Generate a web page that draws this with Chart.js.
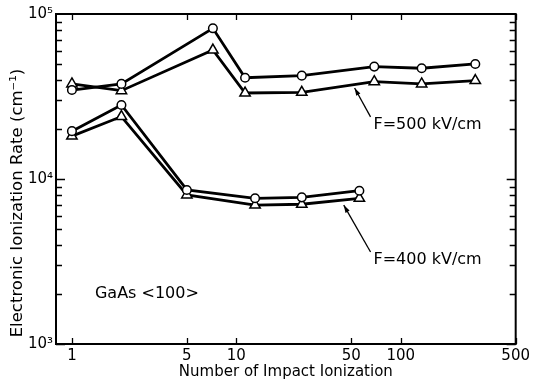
<!DOCTYPE html>
<html>
<head>
<meta charset="utf-8">
<script src="https://cdn.jsdelivr.net/npm/chart.js@4.4.0/dist/chart.umd.min.js"></script>
<style>
  html, body { margin: 0; padding: 0; background: #fff; }
  #wrap { width: 533px; height: 383px; }
</style>
</head>
<body>
<div id="wrap"><canvas id="chart" width="533" height="383"></canvas></div>
<script>
// F = 500 kV/cm
const x500 = [1, 2, 7.2, 11.3, 25, 69, 134, 284];
const circle500 = [34600, 37700, 81900, 41100, 42300, 48000, 46900, 49800];
const triangle500 = [37700, 34300, 60500, 33200, 33500, 38900, 37700, 39500];
// F = 400 kV/cm
const x400 = [1, 2, 5, 13, 25, 56];
const circle400 = [19500, 28100, 8580, 7640, 7740, 8490];
const triangle400 = [18200, 23900, 8000, 6950, 7030, 7640];

const xTicks = [1, 5, 10, 50, 100, 500];
const yTicks = [1e3, 1e4, 1e5];
const yTickLabels = ['10³', '10⁴', '10⁵'];

const FONT = "'DejaVu Sans', 'Liberation Sans', sans-serif";

function pts(xs, ys) {
    return xs.map((x, i) => ({ x: x, y: ys[i] }));
}

function series(label, xs, ys, style, radius) {
    return {
        label: label,
        data: pts(xs, ys),
        showLine: true,
        borderColor: '#000',
        borderWidth: 2.8,
        pointStyle: style,
        pointRadius: radius,
        pointBackgroundColor: '#fff',
        pointBorderColor: '#000',
        pointBorderWidth: 1.5
    };
}

// box and inward tick marks
const frame = {
    id: 'frame',
    beforeDatasetsDraw(chart) {
        const ctx = chart.ctx;
        const a = chart.chartArea;
        const xs = chart.scales.x, ys = chart.scales.y;
        ctx.save();
        ctx.strokeStyle = '#000';
        ctx.lineWidth = 1.3;
        ctx.beginPath();
        xTicks.forEach(v => {
            const px = Math.round(xs.getPixelForValue(v)) + 0.5;
            ctx.moveTo(px, a.top); ctx.lineTo(px, a.top + 6);
            ctx.moveTo(px, a.bottom); ctx.lineTo(px, a.bottom - 6);
        });
        [3, 4].forEach(d => {
            for (let m = 1; m <= 9; m++) {
                const v = m * Math.pow(10, d);
                const py = Math.round(ys.getPixelForValue(v)) + 0.5;
                const len = m === 1 ? 9 : 6;
                ctx.moveTo(a.left, py); ctx.lineTo(a.left + len, py);
                ctx.moveTo(a.right, py); ctx.lineTo(a.right - len, py);
            }
        });
        ctx.stroke();
        ctx.lineWidth = 2;
        ctx.strokeRect(a.left, a.top, a.right - a.left, a.bottom - a.top);
        ctx.restore();
    },
    afterDraw(chart) {
        const ctx = chart.ctx;
        const xs = chart.scales.x, ys = chart.scales.y;
        const P = (x, y) => [xs.getPixelForValue(x), ys.getPixelForValue(y)];
        ctx.save();
        ctx.fillStyle = '#000';
        ctx.strokeStyle = '#000';

        // y axis title
        ctx.save();
        ctx.translate(18, 203);
        ctx.rotate(-Math.PI / 2);
        ctx.font = '16.5px ' + FONT;
        ctx.textAlign = 'center';
        ctx.textBaseline = 'middle';
        ctx.fillText('Electronic Ionization Rate (cm⁻¹)', 0, 0);
        ctx.restore();

        ctx.font = '16px ' + FONT;
        ctx.textAlign = 'left';
        ctx.textBaseline = 'middle';
        let p = P(68.2, 21200);
        ctx.fillText('F=500 kV/cm', p[0], p[1]);
        p = P(68.2, 3230);
        ctx.fillText('F=400 kV/cm', p[0], p[1]);
        p = P(1.38, 2010);
        ctx.fillText('GaAs <100>', p[0], p[1]);

        // arrows
        const arrow = (tail, tip) => {
            const [x0, y0] = P(tail[0], tail[1]);
            const [x1, y1] = P(tip[0], tip[1]);
            const ang = Math.atan2(y1 - y0, x1 - x0);
            ctx.lineWidth = 1.3;
            ctx.beginPath();
            ctx.moveTo(x0, y0);
            ctx.lineTo(x1, y1);
            ctx.stroke();
            ctx.beginPath();
            ctx.moveTo(x1, y1);
            ctx.lineTo(x1 - 8 * Math.cos(ang - 0.3), y1 - 8 * Math.sin(ang - 0.3));
            ctx.lineTo(x1 - 8 * Math.cos(ang + 0.3), y1 - 8 * Math.sin(ang + 0.3));
            ctx.closePath();
            ctx.fill();
        };
        arrow([65.5, 23800], [52.4, 35600]);
        arrow([65.5, 3610], [45, 6950]);
        ctx.restore();
    }
};

new Chart(document.getElementById('chart'), {
    type: 'scatter',
    data: {
        datasets: [
            series('F=500 kV/cm circle', x500, circle500, 'circle', 4.3),
            series('F=500 kV/cm triangle', x500, triangle500, 'triangle', 6),
            series('F=400 kV/cm circle', x400, circle400, 'circle', 4.3),
            series('F=400 kV/cm triangle', x400, triangle400, 'triangle', 6)
        ]
    },
    options: {
        responsive: false,
        animation: false,
        layout: { padding: { top: 14, right: 15, left: 0, bottom: 0 } },
        plugins: {
            legend: { display: false },
            tooltip: { enabled: false }
        },
        scales: {
            x: {
                type: 'logarithmic',
                min: 0.8,
                max: 500,
                grid: { display: false, drawTicks: false },
                border: { display: false },
                afterBuildTicks: scale => { scale.ticks = xTicks.map(v => ({ value: v })); },
                afterFit: scale => { scale.height = 39; },
                ticks: {
                    color: '#000',
                    padding: 3,
                    autoSkip: false,
                    maxRotation: 0,
                    font: { family: FONT, size: 15 },
                    callback: v => String(v)
                },
                title: {
                    display: true,
                    text: 'Number of Impact Ionization',
                    color: '#000',
                    padding: { top: 0, bottom: 2 },
                    font: { family: FONT, size: 15 }
                }
            },
            y: {
                type: 'logarithmic',
                min: 1e3,
                max: 1e5,
                grid: { display: false, drawTicks: false },
                border: { display: false },
                afterBuildTicks: scale => { scale.ticks = yTicks.map(v => ({ value: v })); },
                afterFit: scale => { scale.width = 56; },
                ticks: {
                    color: '#000',
                    padding: 3,
                    font: { family: FONT, size: 15 },
                    callback: v => yTickLabels[Math.round(Math.log10(v)) - 3]
                }
            }
        }
    },
    plugins: [frame]
});
</script>
</body>
</html>
